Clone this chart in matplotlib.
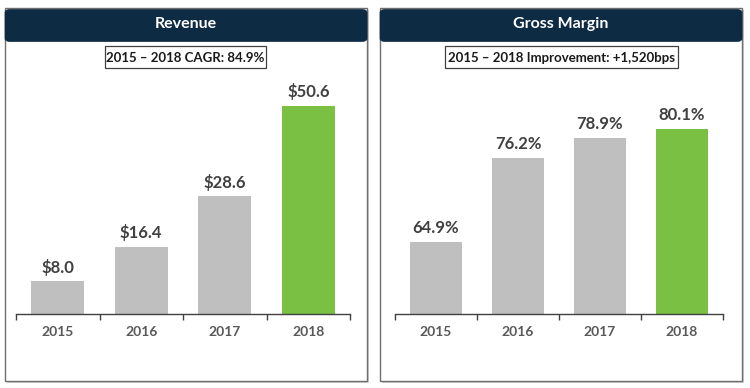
import matplotlib.pyplot as plt
from matplotlib.patches import FancyBboxPatch, Rectangle

plt.rcParams['font.family'] = ['Lato', 'DejaVu Sans']

years = ['2015', '2016', '2017', '2018']
revenue = [8.0, 16.4, 28.6, 50.6]
revenue_labels = ['$8.0', '$16.4', '$28.6', '$50.6']
margin = [64.9, 76.2, 78.9, 80.1]
margin_labels = ['64.9%', '76.2%', '78.9%', '80.1%']
titles = ['Revenue', 'Gross Margin']
subtitles = ['2015 \u2013 2018 CAGR: 84.9%', '2015 \u2013 2018 Improvement: +1,520bps']

W, H = 750, 388
navy = '#0E2B44'
grey_bar = '#BFBFBF'
green = '#7AC143'
text_grey = '#595959'

fig = plt.figure(figsize=(W / 100, H / 100), dpi=100)


def fx(x):
    return x / W


def fy(y):
    return 1 - y / H


def panel(x0, x1, title, subtitle, sub_x0, sub_x1):
    y0, y1 = 8, 381
    # shadow
    fig.patches.append(Rectangle((fx(x0 + 2), fy(y1 + 2)), fx(x1 - x0), (y1 - y0) / H,
                                 transform=fig.transFigure, facecolor='#CFCFCF',
                                 edgecolor='none', zorder=0))
    fig.patches.append(Rectangle((fx(x0), fy(y1)), fx(x1 - x0), (y1 - y0) / H,
                                 transform=fig.transFigure, facecolor='white',
                                 edgecolor='#6E6E6E', linewidth=1.0, zorder=1))
    # header with rounded top corners
    fig.patches.append(FancyBboxPatch((fx(x0 + 3), fy(40)), fx(x1 - x0 - 6), (40 - y0 - 3) / H,
                                      boxstyle='round,pad=0.004,rounding_size=0.008',
                                      transform=fig.transFigure, facecolor=navy,
                                      edgecolor=navy, linewidth=0.5, zorder=2))
    fig.patches.append(Rectangle((fx(x0), fy(40)), fx(x1 - x0), 12 / H,
                                 transform=fig.transFigure, facecolor=navy,
                                 edgecolor='none', zorder=3))
    fig.text(fx((x0 + x1) / 2), fy(24), title, color='white', fontsize=11.5,
             fontweight='bold', ha='center', va='center', zorder=4)
    # subtitle box
    fig.patches.append(Rectangle((fx(sub_x0), fy(68)), fx(sub_x1 - sub_x0), 22 / H,
                                 transform=fig.transFigure, facecolor='white',
                                 edgecolor='#404040', linewidth=0.9, zorder=4))
    fig.text(fx((sub_x0 + sub_x1) / 2), fy(57.5), subtitle, color='#1A1A1A', fontsize=9.5,
             fontweight='bold', ha='center', va='center', zorder=5)


panel(5, 367, titles[0], subtitles[0], 105, 266)
panel(380, 742, titles[1], subtitles[1], 445, 678)


def bar_axes(x_left, x_right, values, labels, ymin, px_per_unit):
    base = 314
    top = 80
    ax = fig.add_axes([fx(x_left), fy(base), fx(x_right - x_left), (base - top) / H])
    ax.set_zorder(5)
    ax.patch.set_visible(False)
    colors = [grey_bar] * (len(values) - 1) + [green]
    pos = list(range(len(values)))
    ax.bar(pos, [v - ymin for v in values], bottom=ymin, width=0.63, color=colors)
    ax.set_xlim(-0.5, len(values) - 0.5)
    ax.set_ylim(ymin, ymin + (base - top) / px_per_unit)
    for p, v, lab in zip(pos, values, labels):
        ax.annotate(lab, (p, v), xytext=(0, 4), textcoords='offset points',
                    ha='center', va='bottom', fontsize=12, fontweight='bold',
                    color='#404040')
    for s in ['top', 'left', 'right']:
        ax.spines[s].set_visible(False)
    ax.spines['bottom'].set_color('#404040')
    ax.spines['bottom'].set_linewidth(1.0)
    ax.set_yticks([])
    ax.set_xticks(pos)
    ax.set_xticklabels(years, fontsize=10, fontweight='bold', color=text_grey)
    ax.tick_params(axis='x', which='major', length=0, pad=9)
    ax.set_xticks([p - 0.5 for p in pos] + [len(values) - 0.5], minor=True)
    ax.tick_params(axis='x', which='minor', length=4, width=1.0, color='#404040',
                   direction='out')
    return ax


bar_axes(16, 350, revenue, revenue_labels, 0, 4.11)
bar_axes(395, 723, margin, margin_labels, 55.2, 7.43)

fig.savefig('out.png', dpi=100)
